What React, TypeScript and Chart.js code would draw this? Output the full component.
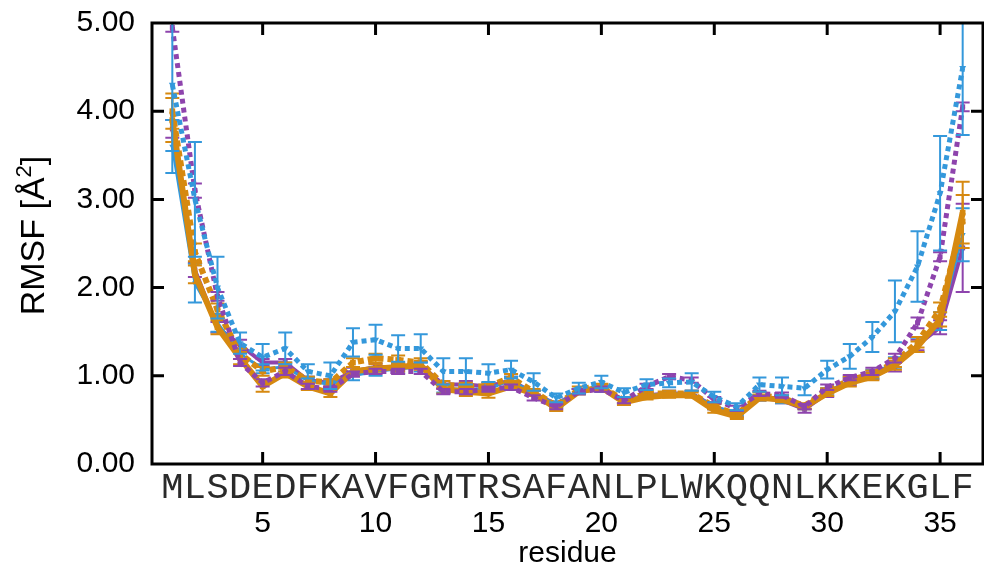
import React, { useEffect, useRef } from 'react';
import { Chart, registerables } from 'chart.js';

Chart.register(...registerables);

// Sequence, one letter per residue (1..36)
const residueLetters = [
  'M', 'L', 'S', 'D', 'E', 'D', 'F', 'K', 'A', 'V', 'F', 'G', 'M', 'T', 'R', 'S', 'A', 'F',
  'A', 'N', 'L', 'P', 'L', 'W', 'K', 'Q', 'Q', 'N', 'L', 'K', 'K', 'E', 'K', 'G', 'L', 'F',
];
const residueTicks = [5, 10, 15, 20, 25, 30, 35];
const rmsfTicks = [0, 1, 2, 3, 4, 5];

// RMSF per residue and its error, one pair of arrays per simulation
const blueSolid = [3.6, 2.05, 1.6, 1.25, 1.08, 1.1, 0.95, 0.9, 1.0, 1.05, 1.08, 1.1, 0.85, 0.85, 0.85, 0.95, 0.8, 0.68,
  0.82, 0.85, 0.72, 0.78, 0.8, 0.8, 0.65, 0.58, 0.75, 0.72, 0.65, 0.82, 0.95, 1.02, 1.15, 1.35, 1.62, 2.6];
const blueSolidErr = [0.3, 0.22, 0.1, 0.06, 0.05, 0.05, 0.04, 0.04, 0.05, 0.05, 0.05, 0.05, 0.04, 0.04, 0.04, 0.04, 0.03, 0.03,
  0.03, 0.03, 0.03, 0.03, 0.03, 0.03, 0.03, 0.03, 0.03, 0.03, 0.03, 0.04, 0.04, 0.05, 0.06, 0.08, 0.1, 0.3];

const blueDotted = [4.3, 3.0, 2.0, 1.37, 1.21, 1.31, 1.05, 1.0, 1.38, 1.41, 1.31, 1.31, 1.05, 1.05, 1.03, 1.07, 0.93, 0.75,
  0.86, 0.93, 0.81, 0.9, 0.92, 0.93, 0.76, 0.65, 0.9, 0.88, 0.86, 1.07, 1.22, 1.44, 1.73, 2.24, 3.07, 4.49];
const blueDottedErr = [0.75, 0.65, 0.35, 0.12, 0.15, 0.18, 0.08, 0.15, 0.16, 0.17, 0.15, 0.16, 0.15, 0.15, 0.1, 0.1, 0.1, 0.05,
  0.06, 0.07, 0.05, 0.06, 0.05, 0.1, 0.06, 0.04, 0.08, 0.1, 0.08, 0.1, 0.14, 0.17, 0.35, 0.4, 0.65, 0.76];

const purpleSolid = [3.8, 2.2, 1.55, 1.35, 1.15, 1.15, 0.95, 0.92, 1.05, 1.1, 1.1, 1.12, 0.9, 0.9, 0.88, 0.95, 0.8, 0.68,
  0.82, 0.85, 0.72, 0.78, 0.8, 0.8, 0.65, 0.56, 0.75, 0.72, 0.62, 0.8, 0.93, 1.0, 1.1, 1.35, 1.55, 2.45];
const purpleSolidErr = [0.1, 0.08, 0.06, 0.06, 0.04, 0.04, 0.04, 0.04, 0.04, 0.04, 0.04, 0.04, 0.04, 0.04, 0.04, 0.04, 0.03, 0.03,
  0.03, 0.03, 0.03, 0.03, 0.03, 0.03, 0.03, 0.03, 0.03, 0.03, 0.04, 0.04, 0.04, 0.04, 0.05, 0.06, 0.08, 0.5];

const purpleDotted = [4.95, 3.1, 1.9, 1.15, 0.92, 1.05, 0.88, 0.85, 1.02, 1.05, 1.05, 1.05, 0.82, 0.82, 0.85, 0.87, 0.75, 0.65,
  0.82, 0.85, 0.72, 0.88, 0.99, 0.95, 0.73, 0.63, 0.8, 0.78, 0.65, 0.87, 0.98, 1.05, 1.2, 1.6, 2.35, 4.05];
const purpleDottedErr = [0.05, 0.08, 0.05, 0.04, 0.04, 0.04, 0.03, 0.03, 0.03, 0.03, 0.03, 0.03, 0.03, 0.03, 0.03, 0.03, 0.03, 0.03,
  0.03, 0.03, 0.03, 0.03, 0.03, 0.03, 0.03, 0.03, 0.03, 0.03, 0.03, 0.03, 0.03, 0.04, 0.05, 0.06, 0.05, 0.05];

const orangeSolid = [3.9, 2.15, 1.55, 1.2, 0.88, 1.03, 0.88, 0.8, 1.05, 1.08, 1.1, 1.12, 0.85, 0.82, 0.8, 0.88, 0.8, 0.63,
  0.82, 0.87, 0.7, 0.76, 0.78, 0.78, 0.61, 0.54, 0.75, 0.73, 0.65, 0.8, 0.92, 0.99, 1.12, 1.33, 1.64, 2.85];
const orangeSolidErr = [0.25, 0.1, 0.08, 0.07, 0.06, 0.05, 0.04, 0.04, 0.05, 0.05, 0.05, 0.05, 0.05, 0.05, 0.05, 0.04, 0.03, 0.03,
  0.03, 0.03, 0.03, 0.03, 0.03, 0.03, 0.03, 0.03, 0.03, 0.03, 0.03, 0.03, 0.04, 0.04, 0.05, 0.06, 0.08, 0.35];

const orangeDotted = [4.0, 2.4, 1.75, 1.25, 1.05, 1.1, 0.95, 0.92, 1.15, 1.2, 1.18, 1.15, 0.9, 0.88, 0.88, 0.98, 0.82, 0.66,
  0.85, 0.88, 0.72, 0.8, 0.8, 0.8, 0.65, 0.56, 0.78, 0.75, 0.66, 0.83, 0.95, 1.02, 1.15, 1.38, 1.75, 2.75];
const orangeDottedErr = [0.2, 0.1, 0.07, 0.06, 0.05, 0.05, 0.04, 0.04, 0.05, 0.05, 0.05, 0.05, 0.04, 0.04, 0.04, 0.04, 0.03, 0.03,
  0.03, 0.03, 0.03, 0.03, 0.03, 0.03, 0.03, 0.03, 0.03, 0.03, 0.03, 0.03, 0.04, 0.04, 0.05, 0.06, 0.08, 0.3];

const BLUE = 'rgb(52,152,219)';
const PURPLE = 'rgb(142,68,173)';
const ORANGE = 'rgb(214,137,16)';

const SANS = '"Liberation Sans", Arial, sans-serif';
const MONO = '"Liberation Mono", "Courier New", monospace';

const toPoints = (values: number[]) => values.map((v, i) => ({ x: i + 1, y: v }));

// Vertical error bars with caps, drawn right after each line
const errorBarPlugin = {
  id: 'errorBars',
  afterDatasetDraw(chart: any, args: any) {
    const ds = chart.data.datasets[args.index];
    const errs: number[] | undefined = ds.errors;
    if (!errs) return;
    const { ctx, chartArea, scales } = chart;
    const xs = scales.x;
    const ys = scales.y;
    ctx.save();
    ctx.beginPath();
    ctx.rect(chartArea.left, chartArea.top, chartArea.right - chartArea.left, chartArea.bottom - chartArea.top);
    ctx.clip();
    ctx.strokeStyle = ds.borderColor;
    ctx.lineWidth = 2;
    ctx.setLineDash([]);
    const cap = 7;
    ds.data.forEach((p: { x: number; y: number }, i: number) => {
      const e = errs[i];
      const px = xs.getPixelForValue(p.x);
      const hi = ys.getPixelForValue(p.y + e);
      const lo = ys.getPixelForValue(p.y - e);
      ctx.beginPath();
      ctx.moveTo(px, hi);
      ctx.lineTo(px, lo);
      ctx.moveTo(px - cap, hi);
      ctx.lineTo(px + cap, hi);
      ctx.moveTo(px - cap, lo);
      ctx.lineTo(px + cap, lo);
      ctx.stroke();
    });
    ctx.restore();
  },
};

// Box around the plot with inward tick marks on all four sides
const frameTickPlugin = {
  id: 'frameTicks',
  afterDraw(chart: any) {
    const { ctx, chartArea, scales } = chart;
    const { left, right, top, bottom } = chartArea;
    const len = 12;
    ctx.save();
    ctx.strokeStyle = '#000';
    ctx.lineWidth = 3;
    ctx.setLineDash([]);
    ctx.strokeRect(left, top, right - left, bottom - top);
    ctx.beginPath();
    residueTicks.forEach((v) => {
      const px = scales.x.getPixelForValue(v);
      ctx.moveTo(px, bottom);
      ctx.lineTo(px, bottom - len);
      ctx.moveTo(px, top);
      ctx.lineTo(px, top + len);
    });
    rmsfTicks.forEach((v) => {
      if (v === 0 || v === 5) return;
      const py = scales.y.getPixelForValue(v);
      ctx.moveTo(left, py);
      ctx.lineTo(left + len, py);
      ctx.moveTo(right, py);
      ctx.lineTo(right - len, py);
    });
    ctx.stroke();
    ctx.restore();
  },
};

// Rotated y-axis title with a raised exponent: RMSF [Å^2]
const yTitlePlugin = {
  id: 'yTitle',
  afterDraw(chart: any) {
    const { ctx, chartArea } = chart;
    const main = `34px ${SANS}`;
    const sup = `22px ${SANS}`;
    const head = 'RMSF [Å';
    const exp = '2';
    const tail = ']';
    ctx.save();
    ctx.fillStyle = '#000';
    ctx.textBaseline = 'alphabetic';
    ctx.textAlign = 'left';
    ctx.font = main;
    const wHead = ctx.measureText(head).width;
    const wTail = ctx.measureText(tail).width;
    ctx.font = sup;
    const wExp = ctx.measureText(exp).width;
    const total = wHead + wExp + wTail;
    const cy = (chartArea.top + chartArea.bottom) / 2 - 8;
    ctx.translate(44, cy);
    ctx.rotate(-Math.PI / 2);
    let x = -total / 2;
    ctx.font = main;
    ctx.fillText(head, x, 0);
    x += wHead;
    ctx.font = sup;
    ctx.fillText(exp, x, -13);
    x += wExp;
    ctx.font = main;
    ctx.fillText(tail, x, 0);
    ctx.restore();
  },
};

const noEdgePadding = (s: any) => {
  s.paddingTop = 0;
  s.paddingBottom = 0;
  s.paddingLeft = 0;
  s.paddingRight = 0;
};

export default function App() {
  const canvasRef = useRef<HTMLCanvasElement>(null);

  useEffect(() => {
    if (!canvasRef.current) return;

    const line = (values: number[], errors: number[], color: string, width: number, dash: number[], pointStyle: string, radius: number, rotation = 0) => ({
      data: toPoints(values),
      errors,
      borderColor: color,
      backgroundColor: color,
      borderWidth: width,
      borderDash: dash,
      borderCapStyle: 'butt',
      pointStyle,
      pointRadius: radius,
      pointRotation: rotation,
      pointBorderWidth: 0,
      pointBackgroundColor: color,
      tension: 0,
      fill: false,
      clip: 0,
    });

    const chart = new Chart(canvasRef.current, {
      type: 'line',
      data: {
        datasets: [
          line(blueDotted, blueDottedErr, BLUE, 5, [5, 4], 'triangle', 4, 180),
          line(purpleDotted, purpleDottedErr, PURPLE, 5, [5, 4], 'rect', 3.5),
          line(orangeDotted, orangeDottedErr, ORANGE, 6, [6, 4], 'rect', 4),
          line(orangeSolid, orangeSolidErr, ORANGE, 6, [], 'rect', 4),
          line(blueSolid, blueSolidErr, BLUE, 3, [], 'triangle', 3.5, 180),
          line(purpleSolid, purpleSolidErr, PURPLE, 4, [], 'rect', 3.5),
        ] as any,
      },
      options: {
        animation: false,
        responsive: false,
        devicePixelRatio: 1,
        layout: { autoPadding: false, padding: { left: 0, right: 1, top: 23, bottom: 0 } },
        plugins: {
          legend: { display: false },
          tooltip: { enabled: false },
        },
        scales: {
          x: {
            type: 'linear',
            position: 'bottom',
            weight: 1,
            min: 0.1,
            max: 36.9,
            afterBuildTicks: (s: any) => {
              s.ticks = residueTicks.map((v) => ({ value: v }));
            },
            afterFit: (s: any) => {
              s.height = 63;
              noEdgePadding(s);
            },
            ticks: {
              autoSkip: false,
              maxRotation: 0,
              padding: 0,
              color: '#000',
              font: { family: SANS, size: 30 },
            },
            grid: { display: false, drawTicks: false },
            border: { display: false },
            title: {
              display: true,
              text: 'residue',
              color: '#000',
              font: { family: SANS, size: 30 },
              padding: { top: 0, bottom: -3 },
            },
          },
          xRes: {
            type: 'linear',
            axis: 'x',
            position: 'bottom',
            weight: 0,
            min: 0.1,
            max: 36.9,
            afterBuildTicks: (s: any) => {
              s.ticks = residueLetters.map((_, i) => ({ value: i + 1 }));
            },
            afterFit: (s: any) => {
              s.height = 42;
              noEdgePadding(s);
            },
            ticks: {
              autoSkip: false,
              maxRotation: 0,
              padding: 2,
              color: '#2a2a2a',
              font: { family: MONO, size: 37 },
              callback: (v: any) => residueLetters[Number(v) - 1] ?? '',
            },
            grid: { display: false, drawTicks: false },
            border: { display: false },
          },
          y: {
            type: 'linear',
            min: 0,
            max: 5,
            afterBuildTicks: (s: any) => {
              s.ticks = rmsfTicks.map((v) => ({ value: v }));
            },
            afterFit: (s: any) => {
              s.width = 152;
              noEdgePadding(s);
            },
            ticks: {
              padding: 17,
              color: '#000',
              font: { family: SANS, size: 30 },
              callback: (v: any) => Number(v).toFixed(2),
            },
            grid: { display: false, drawTicks: false },
            border: { display: false },
            title: { display: false },
          },
        },
      } as any,
      plugins: [errorBarPlugin, frameTickPlugin, yTitlePlugin],
    });

    return () => chart.destroy();
  }, []);

  return (
    <div style={{ position: 'fixed', left: 0, top: 0, width: 984, height: 569, background: '#fff' }}>
      <canvas ref={canvasRef} width={984} height={569} />
    </div>
  );
}
